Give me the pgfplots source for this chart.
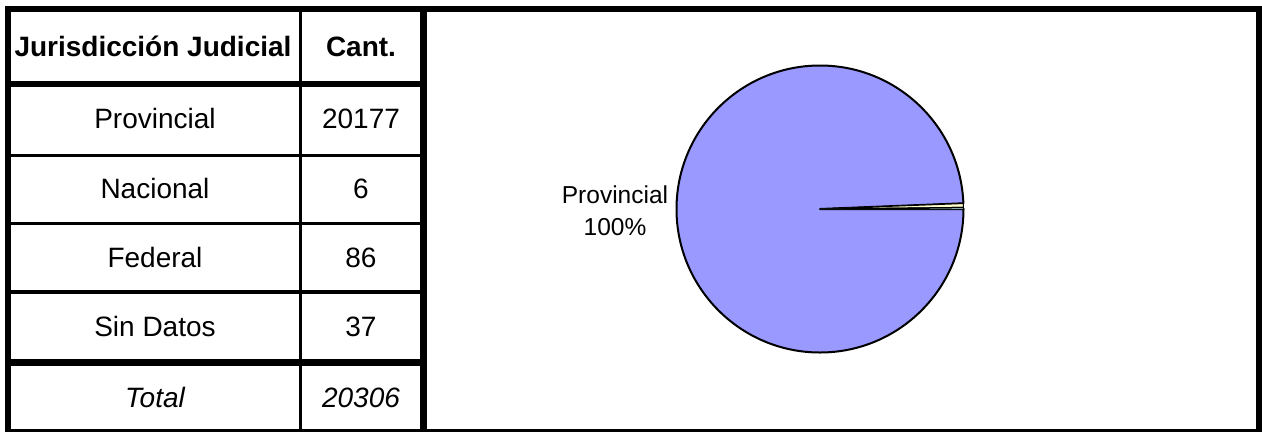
\documentclass[border=0pt]{standalone}
\usepackage{pgfplots}
\pgfplotsset{compat=1.18}
\usepackage{pgfplotstable}
\usepackage{fontspec}
\setmainfont{Liberation Sans}

\definecolor{cprov}{HTML}{9999FF}
\definecolor{cnac}{HTML}{993366}
\definecolor{cfed}{HTML}{FFFFCC}
\definecolor{csin}{HTML}{CCFFFF}

\pgfplotstableread[col sep=comma]{
cat,count
Provincial,20177
Nacional,6
Federal,86
Sin Datos,37
}\jurtable

\begin{document}
\begin{tikzpicture}
% names, counts and pie angles (numbers too large for pgfmath, so l3fp)
\pgfplotstablegetelem{0}{cat}\of\jurtable \let\nProv\pgfplotsretval
\pgfplotstablegetelem{1}{cat}\of\jurtable \let\nNac\pgfplotsretval
\pgfplotstablegetelem{2}{cat}\of\jurtable \let\nFed\pgfplotsretval
\pgfplotstablegetelem{3}{cat}\of\jurtable \let\nSin\pgfplotsretval
\pgfplotstablegetelem{0}{count}\of\jurtable \let\cProv\pgfplotsretval
\pgfplotstablegetelem{1}{count}\of\jurtable \let\cNac\pgfplotsretval
\pgfplotstablegetelem{2}{count}\of\jurtable \let\cFed\pgfplotsretval
\pgfplotstablegetelem{3}{count}\of\jurtable \let\cSin\pgfplotsretval
\edef\total{\fpeval{\cProv+\cNac+\cFed+\cSin}}
\edef\aA{\fpeval{-360*\cProv/\total}}
\edef\aB{\fpeval{\aA-360*\cNac/\total}}
\edef\aC{\fpeval{\aB-360*\cFed/\total}}

\path[fill=white] (0,0) rectangle (1262pt,432pt);
\begin{axis}[
  scale only axis,
  width=1262pt, height=432pt,
  xmin=0, xmax=1262, ymin=0, ymax=432,
  y dir=reverse,
  hide axis,
  clip=false,
]
\addplot[draw=none] coordinates {(0,0)};

% pie, clockwise from 0 degrees
\def\pr{143.5pt}
\filldraw[fill=cprov, draw=black, line width=2pt, line join=round]
  (axis cs:820,209) -- ++(0:\pr) arc[start angle=0, end angle=\aA, radius=\pr] -- cycle;
\filldraw[fill=cnac, draw=black, line width=1pt]
  (axis cs:820,209) -- ++(\aA:\pr) arc[start angle=\aA, end angle=\aB, radius=\pr] -- cycle;
\filldraw[fill=cfed, draw=black, line width=1pt]
  (axis cs:820,209) -- ++(\aB:\pr) arc[start angle=\aB, end angle=\aC, radius=\pr] -- cycle;
\filldraw[fill=csin, draw=black, line width=1pt]
  (axis cs:820,209) -- ++(\aC:\pr) arc[start angle=\aC, end angle=-360, radius=\pr] -- cycle;

\node[anchor=base, font=\fontsize{24.5}{28}\selectfont] at (axis cs:615,203) {\nProv};
\node[anchor=base, font=\fontsize{24.5}{28}\selectfont] at (axis cs:615,235) {100\%};

% frame and table rules
\fill (axis cs:5,6) rectangle (axis cs:1262,12);
\fill (axis cs:5,6) rectangle (axis cs:11,432);
\fill (axis cs:1256,6) rectangle (axis cs:1262,429);
\fill (axis cs:5,428.5) rectangle (axis cs:1262,432);
\fill (axis cs:420,6) rectangle (axis cs:427,432);
\fill (axis cs:299,6) rectangle (axis cs:302,432);
\fill (axis cs:5,81) rectangle (axis cs:427,87);
\fill (axis cs:5,153.5) rectangle (axis cs:427,157);
\fill (axis cs:5,221.5) rectangle (axis cs:427,225);
\fill (axis cs:5,290) rectangle (axis cs:427,293.5);
\fill (axis cs:5,359) rectangle (axis cs:427,366);

% table text
\tikzset{cell/.style={anchor=base, font=\fontsize{28}{32}\selectfont}}
\node[cell, font=\fontsize{28}{32}\selectfont\bfseries] at (axis cs:153,56) {Jurisdicción Judicial};
\node[cell, font=\fontsize{28}{32}\selectfont\bfseries] at (axis cs:361,56) {Cant.};
\node[cell] at (axis cs:155,128) {\nProv};
\node[cell] at (axis cs:361,128) {\cProv};
\node[cell] at (axis cs:155,198) {\nNac};
\node[cell] at (axis cs:361,198) {\cNac};
\node[cell] at (axis cs:155,267) {\nFed};
\node[cell] at (axis cs:361,267) {\cFed};
\node[cell] at (axis cs:155,336) {\nSin};
\node[cell] at (axis cs:361,336) {\cSin};
\node[cell, font=\fontsize{28}{32}\selectfont\itshape] at (axis cs:155,407) {Total};
\node[cell, font=\fontsize{28}{32}\selectfont\itshape] at (axis cs:361,407) {\total};
\end{axis}
\end{tikzpicture}
\end{document}
